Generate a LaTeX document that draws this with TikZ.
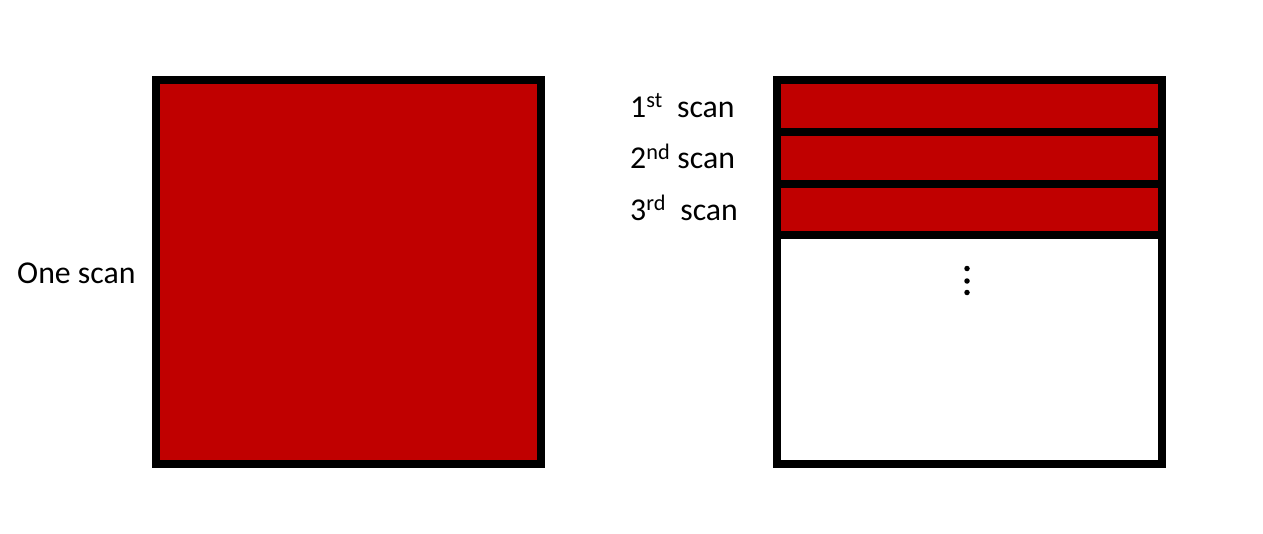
\documentclass[tikz,border=0pt]{standalone}
\usepackage{fontspec}
\setmainfont{Carlito}
\definecolor{scanred}{RGB}{192,0,0}
\begin{document}
\begin{tikzpicture}[x=1pt,y=-1pt,
  frame/.style={draw=black,line width=8pt,rectangle,inner sep=0pt,outer sep=0pt},
  stripe/.style={fill=scanred,draw=none,rectangle,inner sep=0pt,outer sep=0pt,minimum width=377pt},
  lbl/.style={anchor=base west,inner sep=0pt,font=\fontsize{31.8}{36}\selectfont},
  dot/.style={circle,fill=black,inner sep=0pt,minimum size=5.5pt}]
\useasboundingbox (0,0) rectangle (1263,533);
% left box
\node[frame,fill=scanred,minimum width=385pt,minimum height=384pt] (big) at (348.5,272) {};
\node[lbl] (one) at (17,283) {One scan};
% right box
\node[frame,fill=white,minimum width=385pt,minimum height=384pt] (multi) at (969.5,272) {};
\node[stripe,minimum height=50pt] (s1) at (969.5,106) {};
\node[stripe,minimum height=51.5pt] (s2) at (969.5,157.75) {};
\node[stripe,minimum height=51.5pt] (s3) at (969.5,209.25) {};
\draw[line width=8pt] (multi.west |- 0,132) coordinate (d1a) -- (multi.east |- 0,132) coordinate (d1b);
\draw[line width=8pt] (multi.west |- 0,183.5) coordinate (d2a) -- (multi.east |- 0,183.5) coordinate (d2b);
\draw[line width=8pt] (multi.west |- 0,235) coordinate (d3a) -- (multi.east |- 0,235) coordinate (d3b);
\draw[line width=8pt] (multi.north west) rectangle (multi.south east);
\node[lbl] (l1) at (630,117) {1\textsuperscript{st}\ \ scan};
\node[lbl] (l2) at (630,168.5) {2\textsuperscript{nd} scan};
\node[lbl] (l3) at (630,220) {3\textsuperscript{rd}\ \ scan};
\node[dot] (p1) at (967,268.5) {};
\node[dot] (p2) at (967,281) {};
\node[dot] (p3) at (967,292.5) {};
\end{tikzpicture}
\end{document}
